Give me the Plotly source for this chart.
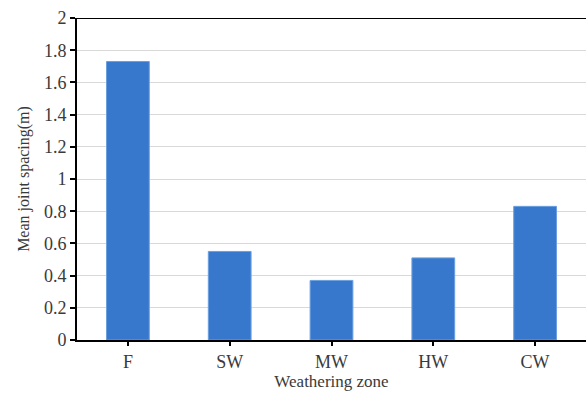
import plotly.graph_objects as go

categories = ["F", "SW", "MW", "HW", "CW"]
spacing = [1.73, 0.55, 0.37, 0.51, 0.83]
y_ticks = [0, 0.2, 0.4, 0.6, 0.8, 1, 1.2, 1.4, 1.6, 1.8, 2]
y_labels = ["0", "0.2", "0.4", "0.6", "0.8", "1", "1.2", "1.4", "1.6", "1.8", "2"]

font = "Liberation Serif, Times New Roman, serif"

fig = go.Figure()
fig.add_trace(go.Bar(
    x=categories, y=spacing,
    marker=dict(color="#3878cc", line=dict(color="#6a9fe0", width=1)),
))
fig.update_layout(
    width=586, height=398,
    margin=dict(l=77, r=0, t=18, b=58, autoexpand=False),
    paper_bgcolor="white", plot_bgcolor="white",
    bargap=0.58, showlegend=False,
    font=dict(family=font, size=16, color="#3a3a3a"),
    modebar=dict(bgcolor="rgba(0,0,0,0)", color="rgba(0,0,0,0)", activecolor="rgba(0,0,0,0)"),
)
fig.update_xaxes(
    automargin=False,
    showline=True, linecolor="black", linewidth=2, mirror=False,
    ticks="outside", ticklen=4, tickcolor="black", tickwidth=2,
    title=dict(text="Weathering zone", font=dict(size=17), standoff=4),
    tickfont=dict(size=18),
)
fig.update_yaxes(
    automargin=False,
    range=[0, 2], tickvals=y_ticks, ticktext=y_labels,
    showline=True, linecolor="black", linewidth=2,
    ticks="outside", ticklen=5, tickcolor="black", tickwidth=2,
    showgrid=True, gridcolor="#d9d9d9", gridwidth=1,
    title=dict(text="Mean joint spacing(m)", font=dict(size=16), standoff=10),
    tickfont=dict(size=18),
)
# top border line at y=2
fig.add_shape(type="line", xref="paper", yref="y", x0=0, x1=1, y0=2, y1=2,
              line=dict(color="black", width=2))
fig.write_html(
    "out.html",
    post_script=(
        "document.body.style.margin='0';"
        "document.querySelectorAll('.modebar-container').forEach(function(e){e.style.display='none';});"
    ),
)
